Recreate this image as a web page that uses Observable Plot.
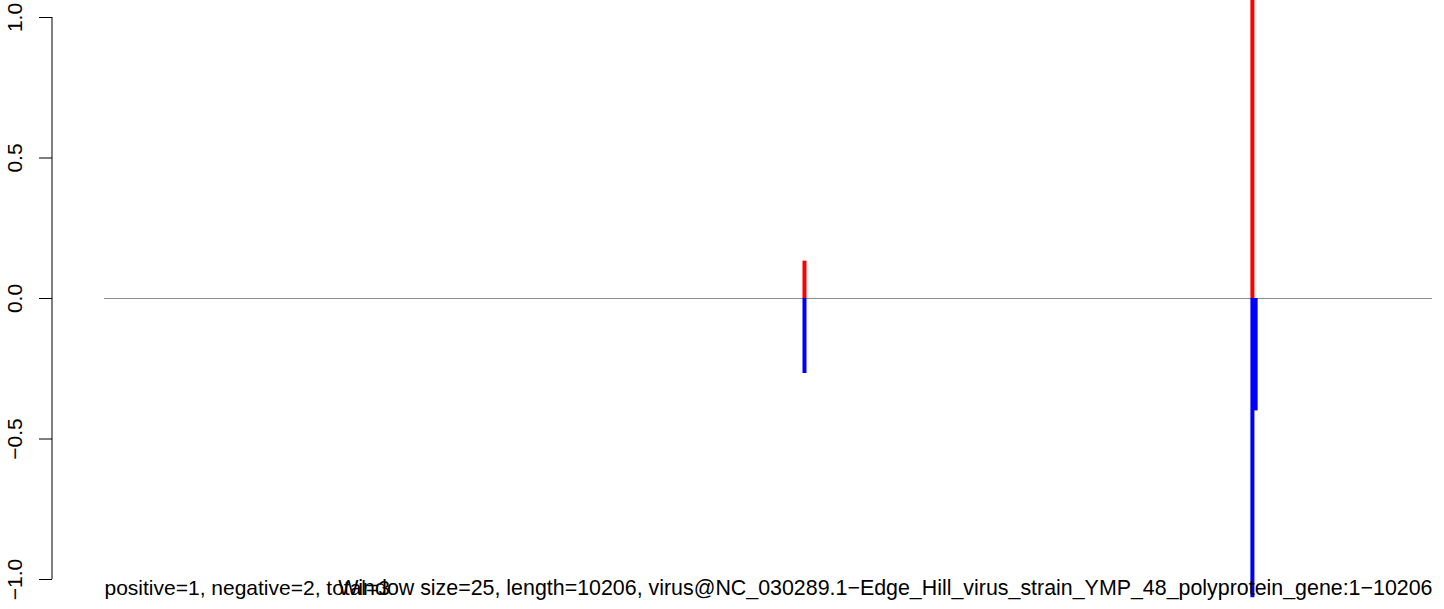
<!DOCTYPE html>
<html><head><meta charset="utf-8">
<script src="https://cdn.jsdelivr.net/npm/d3@7"></script>
<script src="https://cdn.jsdelivr.net/npm/@observablehq/plot@0.6"></script>
<style>
body{margin:0;background:#fff}
svg{font-family:"Liberation Sans",Arial,sans-serif}
</style>
</head><body><div id="chart"></div>
<script>
const seqLength = 10206;
const positions = [5380, 8822, 8847];
const positiveValues = [0.133, 1.065, 0];
const negativeValues = [-0.267, -1.065, -0.40];
const yTicks = [-1, -0.5, 0, 0.5, 1];
const leftLabel = "positive=1, negative=2, total=3";
const rightLabel = "Window size=25, length=10206, virus@NC_030289.1\u2212Edge_Hill_virus_strain_YMP_48_polyprotein_gene:1\u221210206";

const pos = positions.map((p, i) => ({pos: p, value: positiveValues[i]})).filter(d => d.value !== 0);
const neg = positions.map((p, i) => ({pos: p, value: negativeValues[i]})).filter(d => d.value !== 0);
const fmt = d3.format(".1f");

const axisLine = (index, scales, values, dims) => {
  const [lo, hi] = d3.extent(yTicks);
  return d3.create("svg:line")
    .attr("x1", dims.marginLeft).attr("x2", dims.marginLeft)
    .attr("y1", scales.y(lo)).attr("y2", scales.y(hi))
    .attr("stroke", "black").attr("stroke-width", 1)
    .node();
};

const chart = Plot.plot({
  width: 1444, height: 609,
  marginLeft: 52, marginRight: 12, marginTop: 17, marginBottom: 30,
  x: {domain: [1, seqLength], range: [104, 1432], axis: null},
  y: {domain: [-1, 1], axis: null},
  style: {fontFamily: "'Liberation Sans', Arial, sans-serif", fontSize: "21px", background: "#fff", color: "black"},
  marks: [
    Plot.ruleY([0], {x1: 1, x2: seqLength, stroke: "#8c8c8c", strokeWidth: 1}),
    Plot.ruleX(pos, {x: "pos", y1: 0, y2: "value", stroke: "#ff0000", strokeWidth: 4}),
    Plot.ruleX(neg, {x: "pos", y1: 0, y2: "value", stroke: "#0000ff", strokeWidth: 4}),
    Plot.axisY(yTicks, {anchor: "left", tickSize: 13, tickFormat: () => "", label: null, stroke: "black"}),
    Plot.text(yTicks, {y: d => d, text: d => fmt(d), frameAnchor: "left", rotate: -90, dx: -37, fontSize: 21, fill: "black", textAnchor: "middle", lineAnchor: "middle"}),
    axisLine,
    Plot.text([leftLabel], {x: 1, frameAnchor: "bottom", textAnchor: "start", lineAnchor: "middle", dy: 9, fontSize: 21, fill: "black"}),
    Plot.text([rightLabel], {x: seqLength, frameAnchor: "bottom", textAnchor: "end", lineAnchor: "middle", dy: 9, fontSize: 21.4, fill: "black"})
  ]
});
document.getElementById("chart").appendChild(chart);
</script>
</body></html>
